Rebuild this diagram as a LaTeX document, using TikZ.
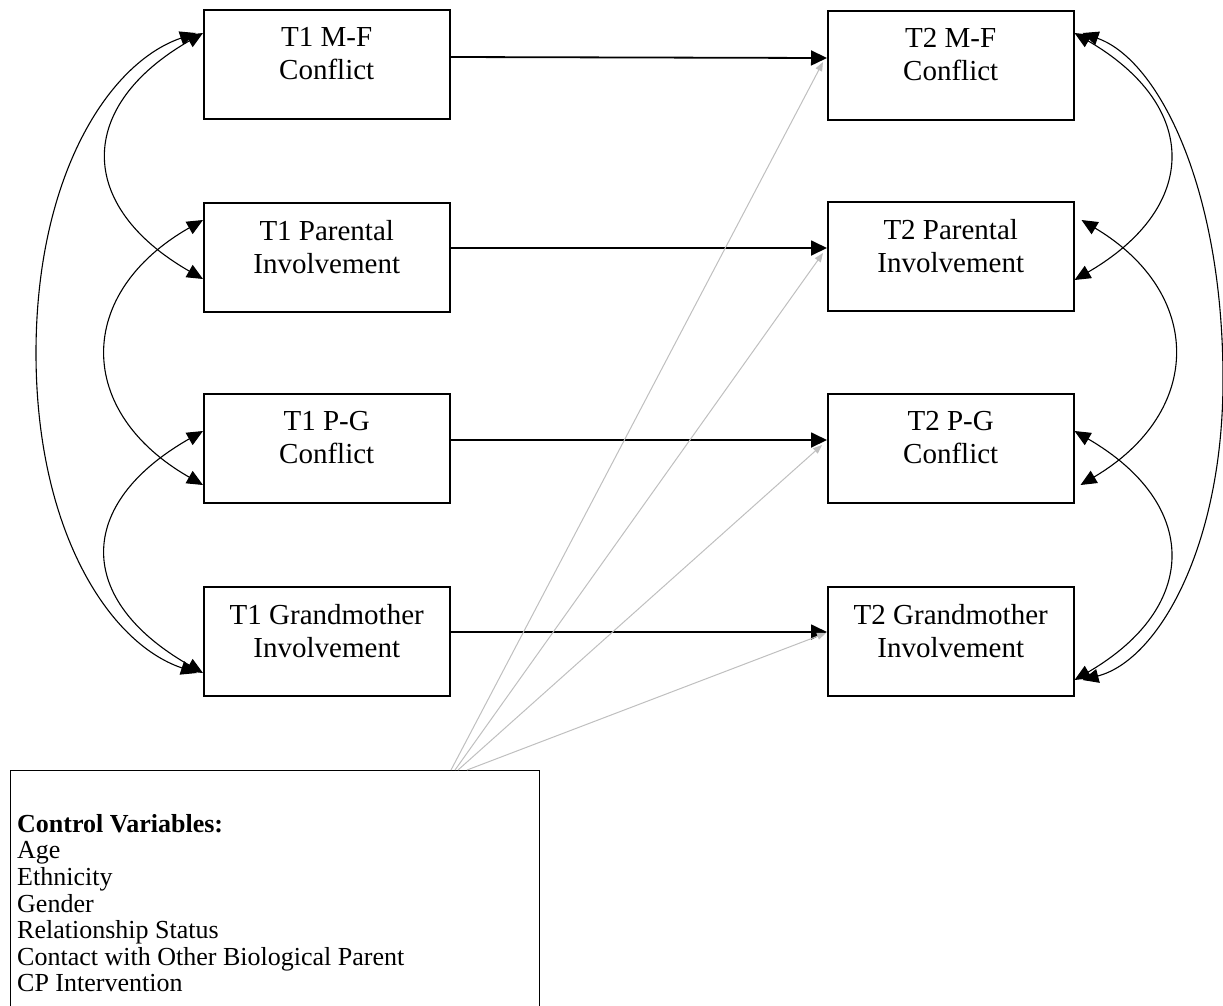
\documentclass[tikz,border=0pt]{standalone}
\usepackage{fontspec}
\setmainfont{Liberation Serif}
\usetikzlibrary{arrows.meta}
\begin{document}
\begin{tikzpicture}[x=1pt,y=-1pt,
  varbox/.style={draw, line width=1.5pt, minimum width=246pt, minimum height=109pt, inner sep=0pt, anchor=north west},
  lbl/.style={align=center, font=\fontsize{29}{33}\selectfont, inner sep=0pt},
  regpath/.style={line width=1.8pt, -{Triangle[length=16pt,width=15pt]}},
  covpath/.style={line width=1.1pt, {Triangle[length=16pt,width=14pt]}-{Triangle[length=16pt,width=14pt]}},
  ctlpath/.style={draw=black!25, line width=1pt, -{Triangle[length=9pt,width=7pt]}}]
\useasboundingbox (0,0) rectangle (1223,1005);
% T1 boxes
\node[varbox] (t1mf) at (203,9) {};
\node[varbox] (t1pi) at (203,202) {};
\node[varbox] (t1pg) at (203,393) {};
\node[varbox] (t1gi) at (203,586) {};
% T2 boxes
\node[varbox] (t2mf) at (827,10) {};
\node[varbox] (t2pi) at (827,201) {};
\node[varbox] (t2pg) at (827,393) {};
\node[varbox] (t2gi) at (827,586) {};
% labels
\node[lbl] (t1mft) at ([yshift=-45pt]t1mf.north) {T1 M-F\\Conflict};
\node[lbl] (t1pit) at ([yshift=-45pt]t1pi.north) {T1 Parental\\Involvement};
\node[lbl] (t1pgt) at ([yshift=-45pt]t1pg.north) {T1 P-G\\Conflict};
\node[lbl] (t1git) at ([yshift=-45pt]t1gi.north) {T1 Grandmother\\Involvement};
\node[lbl] (t2mft) at ([yshift=-45pt]t2mf.north) {T2 M-F\\Conflict};
\node[lbl] (t2pit) at ([yshift=-45pt]t2pi.north) {T2 Parental\\Involvement};
\node[lbl] (t2pgt) at ([yshift=-45pt]t2pg.north) {T2 P-G\\Conflict};
\node[lbl] (t2git) at ([yshift=-45pt]t2gi.north) {T2 Grandmother\\Involvement};
% control box
\node[draw, line width=1.2pt, minimum width=529pt, minimum height=260pt, inner sep=0pt, anchor=north west] (ctrl) at (10,770) {};
\node[anchor=north west, align=left, inner sep=0pt, font=\fontsize{26}{26.6}\selectfont] (ctrlt) at (17,814)
  {\textbf{Control Variables:}\\Age\\Ethnicity\\Gender\\Relationship Status\\Contact with Other Biological Parent\\CP Intervention};
\coordinate (g1) at (451,770);
\coordinate (g2) at (455,770);
\coordinate (g3) at (458,770);
\coordinate (g4) at (467,770);
% regression paths
\draw[regpath] ([yshift=-48pt]t1mf.north east) -- ([yshift=-48pt]t2mf.north west);
\draw[regpath] ([yshift=-46pt]t1pi.north east) -- ([yshift=-47pt]t2pi.north west);
\draw[regpath] ([yshift=-47pt]t1pg.north east) -- ([yshift=-47pt]t2pg.north west);
\draw[regpath] ([yshift=-46pt]t1gi.north east) -- ([yshift=-46pt]t2gi.north west);
% control paths
\draw[ctlpath] (g1) -- ([xshift=-4pt,yshift=-52pt]t2mf.north west);
\draw[ctlpath] (g2) -- ([xshift=-4pt,yshift=-52pt]t2pi.north west);
\draw[ctlpath] (g3) -- ([xshift=-5pt,yshift=-52pt]t2pg.north west);
\draw[ctlpath] (g4) -- ([xshift=-1pt,yshift=-47pt]t2gi.north west);
% left covariances
\draw[covpath] ([yshift=-24pt]t1mf.north west) .. controls (76,106) and (76,206) .. ([yshift=-77pt]t1pi.north west);
\draw[covpath] ([yshift=-18pt]t1pi.north west) .. controls (75,293) and (75,412) .. ([yshift=-92pt]t1pg.north west);
\draw[covpath] ([yshift=-38pt]t1pg.north west) .. controls (75,504) and (75,600) .. ([yshift=-87pt]t1gi.north west);
\draw[covpath] ([xshift=-7pt,yshift=-24pt]t1mf.north west) .. controls (108,63) and (36,177) .. (36,353) .. controls (36,529) and (108,643) .. ([xshift=-6pt,yshift=-87pt]t1gi.north west);
% right covariances
\draw[covpath] ([yshift=-23pt]t2mf.north east) .. controls (1200,106) and (1200,207) .. ([yshift=-79pt]t2pi.north east);
\draw[covpath] ([xshift=7pt,yshift=-19pt]t2pi.north east) .. controls (1204,293) and (1204,412) .. ([xshift=6pt,yshift=-92pt]t2pg.north east);
\draw[covpath] ([yshift=-38pt]t2pg.north east) .. controls (1200,504) and (1200,607) .. ([yshift=-94pt]t2gi.north east);
\draw[covpath] ([xshift=8pt,yshift=-23pt]t2mf.north east) .. controls (1159,60) and (1223,189) .. (1223,380) .. controls (1223,545) and (1159,660) .. ([xshift=8pt,yshift=-94pt]t2gi.north east);
\end{tikzpicture}
\end{document}
